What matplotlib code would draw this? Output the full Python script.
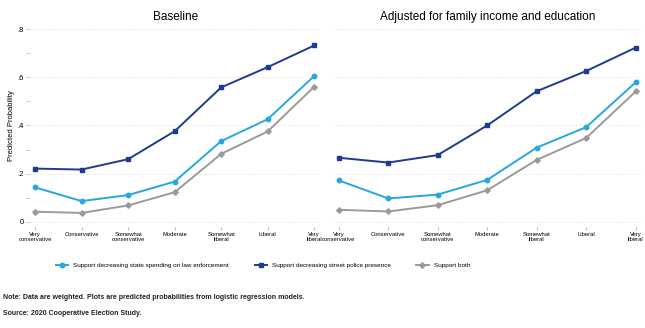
import numpy as np
import matplotlib.pyplot as plt
from matplotlib.ticker import MultipleLocator

plt.rcParams['font.family'] = ['Liberation Sans', 'DejaVu Sans']

categories = ["Very\nconservative", "Conservative", "Somewhat\nconservative", "Moderate",
              "Somewhat\nliberal", "Liberal", "Very\nliberal"]

# Baseline
base_spending = [0.143, 0.086, 0.111, 0.167, 0.335, 0.426, 0.605]
base_police = [0.221, 0.217, 0.260, 0.376, 0.558, 0.642, 0.732]
base_both = [0.042, 0.037, 0.068, 0.123, 0.282, 0.375, 0.561]

# Adjusted for family income and education
adj_spending = [0.172, 0.097, 0.113, 0.174, 0.308, 0.393, 0.579]
adj_police = [0.266, 0.246, 0.277, 0.400, 0.542, 0.626, 0.723]
adj_both = [0.050, 0.043, 0.069, 0.131, 0.257, 0.348, 0.541]

labels = ["Support decreasing state spending on law enforcement",
          "Support decreasing street police presence",
          "Support both"]
colors = ["#27a7e1", "#1f3b8f", "#9a9a9a"]
markers = ["o", "s", "D"]
msizes = [3.2, 3.2, 2.8]

fig = plt.figure(figsize=(6.45, 3.28), dpi=100)
ax1 = fig.add_axes([0.0465, 0.309, 0.45, 0.617])
ax2 = fig.add_axes([0.516, 0.309, 0.481, 0.617])

x = np.arange(len(categories))
panels = [(ax1, "Baseline", [base_spending, base_police, base_both]),
          (ax2, "Adjusted for family income and education", [adj_spending, adj_police, adj_both])]

for ax, title, series in panels:
    for vals, lab, c, m, ms in zip(series, labels, colors, markers, msizes):
        ax.plot(x, vals, color=c, marker=m, markersize=ms, linewidth=1.4, label=lab)
    ax.set_ylim(-0.02, 0.82)
    ax.set_xlim(-0.11, 6.13)
    ax.set_xticks(x)
    ax.set_xticklabels(categories, fontsize=4.2, linespacing=1.0)
    ax.set_yticks([0, 0.2, 0.4, 0.6, 0.8])
    ax.yaxis.set_minor_locator(MultipleLocator(0.1))
    ax.grid(axis='y', linestyle=(0, (1, 2)), color='#d8d8d8', linewidth=0.6)
    for s in ax.spines.values():
        s.set_visible(False)
    ax.tick_params(axis='x', length=2, color='#bbbbbb', pad=2)
    ax.tick_params(axis='y', which='both', length=3, color='#bbbbbb', width=0.5, pad=1.5)
    ax.set_title(title, fontsize=8.5, pad=3)

ax1.set_yticklabels(["0", ".2", ".4", ".6", ".8"], fontsize=5.5)
ax1.set_ylabel("Predicted Probability", fontsize=5.5, labelpad=2)
ax2.tick_params(axis='y', which='both', left=False, labelleft=False)
ax2.set_xlim(-0.12, 6.15)

handles, labs = ax1.get_legend_handles_labels()
fig.legend(handles, labs, loc='center', bbox_to_anchor=(0.408, 0.192), ncol=3,
           frameon=False, fontsize=4.6, handlelength=1.9, columnspacing=4.0, handletextpad=0.8)

fig.text(0.005, 0.093, "Note: Data are weighted. Plots are predicted probabilities from logistic regression models.",
         fontsize=5, fontweight='bold', color='#222222', va='center')
fig.text(0.005, 0.045, "Source: 2020 Cooperative Election Study.",
         fontsize=5, fontweight='bold', color='#222222', va='center')

fig.savefig("out.png", dpi=100)
